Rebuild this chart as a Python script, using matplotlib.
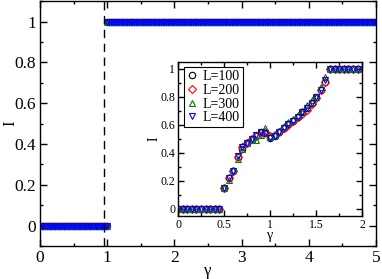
"""Order parameter I vs gamma, with finite-size inset."""
import numpy as np
import matplotlib
matplotlib.use("Agg")
import matplotlib.pyplot as plt
from matplotlib.ticker import MultipleLocator, FormatStrFormatter

plt.rcParams["font.family"] = ["Liberation Serif", "DejaVu Serif"]
plt.rcParams["mathtext.fontset"] = "stix"

# main panel data
gamma_low = np.round(np.arange(0.0, 1.0001, 0.025), 3)
I_low = [0.0] * len(gamma_low)
gamma_high = np.round(np.arange(1.0, 5.0001, 0.025), 3)
I_high = [1.0] * len(gamma_high)
gamma_c = 0.95

# inset data
gamma_in = [0.0, 0.05, 0.1, 0.15, 0.2, 0.25, 0.3, 0.35, 0.4, 0.45,
            0.5, 0.55, 0.6, 0.65, 0.7, 0.75, 0.8, 0.85, 0.9, 0.95,
            1.0, 1.05, 1.1, 1.15, 1.2, 1.25, 1.3, 1.35, 1.4, 1.45,
            1.5, 1.55, 1.6, 1.65, 1.7, 1.75, 1.8, 1.85, 1.9, 1.95]
I_L100 = [0, 0, 0, 0, 0, 0, 0, 0, 0, 0,
          0.15, 0.22, 0.27, 0.37, 0.43, 0.47, 0.50, 0.52, 0.55, 0.54,
          0.51, 0.52, 0.55, 0.58, 0.61, 0.63, 0.66, 0.69, 0.72, 0.76,
          0.80, 0.85, 0.91, 1, 1, 1, 1, 1, 1, 1]
I_L200 = [0, 0, 0, 0, 0, 0, 0, 0, 0, 0,
          0.15, 0.22, 0.27, 0.37, 0.44, 0.47, 0.50, 0.52, 0.54, 0.55,
          0.52, 0.53, 0.55, 0.58, 0.60, 0.63, 0.66, 0.68, 0.71, 0.75,
          0.79, 0.85, 0.91, 1, 1, 1, 1, 1, 1, 1]
I_L300 = [0, 0, 0, 0, 0, 0, 0, 0, 0, 0,
          0.15, 0.21, 0.28, 0.36, 0.43, 0.47, 0.50, 0.49, 0.53, 0.58,
          0.52, 0.53, 0.56, 0.59, 0.62, 0.64, 0.67, 0.70, 0.74, 0.78,
          0.80, 0.87, 0.94, 1, 1, 1, 1, 1, 1, 1]
I_L400 = [0, 0, 0, 0, 0, 0, 0, 0, 0, 0,
          0.15, 0.22, 0.27, 0.38, 0.44, 0.47, 0.50, 0.53, 0.55, 0.54,
          0.51, 0.52, 0.55, 0.58, 0.61, 0.63, 0.66, 0.69, 0.72, 0.76,
          0.80, 0.85, 0.92, 1, 1, 1, 1, 1, 1, 1]

series = [("L=100", I_L100, "o", "black"),
          ("L=200", I_L200, "D", "red"),
          ("L=300", I_L300, "^", "green"),
          ("L=400", I_L400, "v", "blue")]


def style_axes(ax, lw=1.0):
    for sp in ax.spines.values():
        sp.set_linewidth(lw)
    ax.tick_params(which="both", direction="in", top=True, right=True, width=lw)


fig = plt.figure(figsize=(3.82, 2.79), dpi=100)
ax = fig.add_axes([0.105, 0.118, 0.879, 0.878])

for label, _, mk, col in series:
    ms = 3.4 if mk == "D" else 4.3
    ax.plot(gamma_low, I_low, linestyle="none", marker=mk, ms=ms,
            mfc="none", mec=col, mew=0.8)
    ax.plot(gamma_high, I_high, linestyle="none", marker=mk, ms=ms,
            mfc="none", mec=col, mew=0.8)
ax.axvline(gamma_c, color="black", ls=(0, (6, 4)), lw=1.0)

ax.set_xlim(0, 5)
ax.set_ylim(-0.1, 1.1)
ax.xaxis.set_major_locator(MultipleLocator(1))
ax.xaxis.set_minor_locator(MultipleLocator(0.5))
ax.yaxis.set_major_locator(MultipleLocator(0.2))
ax.yaxis.set_minor_locator(MultipleLocator(0.1))
ax.yaxis.set_major_formatter(FormatStrFormatter("%g"))
ax.tick_params(which="major", length=5, labelsize=12.5, pad=3)
ax.tick_params(which="minor", length=2.5)
style_axes(ax)
ax.set_xlabel("γ", fontsize=12, labelpad=-2)
ax.set_ylabel("I", fontsize=12, labelpad=-3)

# inset
ins = fig.add_axes([0.466, 0.226, 0.482, 0.552])
for label, vals, mk, col in series:
    ms = 3.6 if mk == "D" else 4.6
    ins.plot(gamma_in, vals, linestyle="none", marker=mk, ms=ms,
             mfc="none", mec=col, mew=0.8, label=label)
ins.set_xlim(0, 2)
ins.set_ylim(-0.05, 1.05)
ins.xaxis.set_major_locator(MultipleLocator(0.5))
ins.xaxis.set_minor_locator(MultipleLocator(0.25))
ins.yaxis.set_major_locator(MultipleLocator(0.2))
ins.yaxis.set_minor_locator(MultipleLocator(0.1))
ins.xaxis.set_major_formatter(FormatStrFormatter("%g"))
ins.yaxis.set_major_formatter(FormatStrFormatter("%g"))
ins.tick_params(which="major", length=4, labelsize=8.5, pad=2)
ins.tick_params(which="minor", length=2)
style_axes(ins)
ins.set_xlabel("γ", fontsize=10, labelpad=-1)
ins.set_ylabel("I", fontsize=10, labelpad=0)
leg = ins.legend(loc="upper left", fontsize=10, handlelength=0.8,
                 handletextpad=0.4, borderpad=0.2, labelspacing=0.05,
                 fancybox=False, framealpha=1, edgecolor="black",
                 borderaxespad=0.4)
leg.get_frame().set_linewidth(0.8)

fig.savefig("out.png", dpi=100)
